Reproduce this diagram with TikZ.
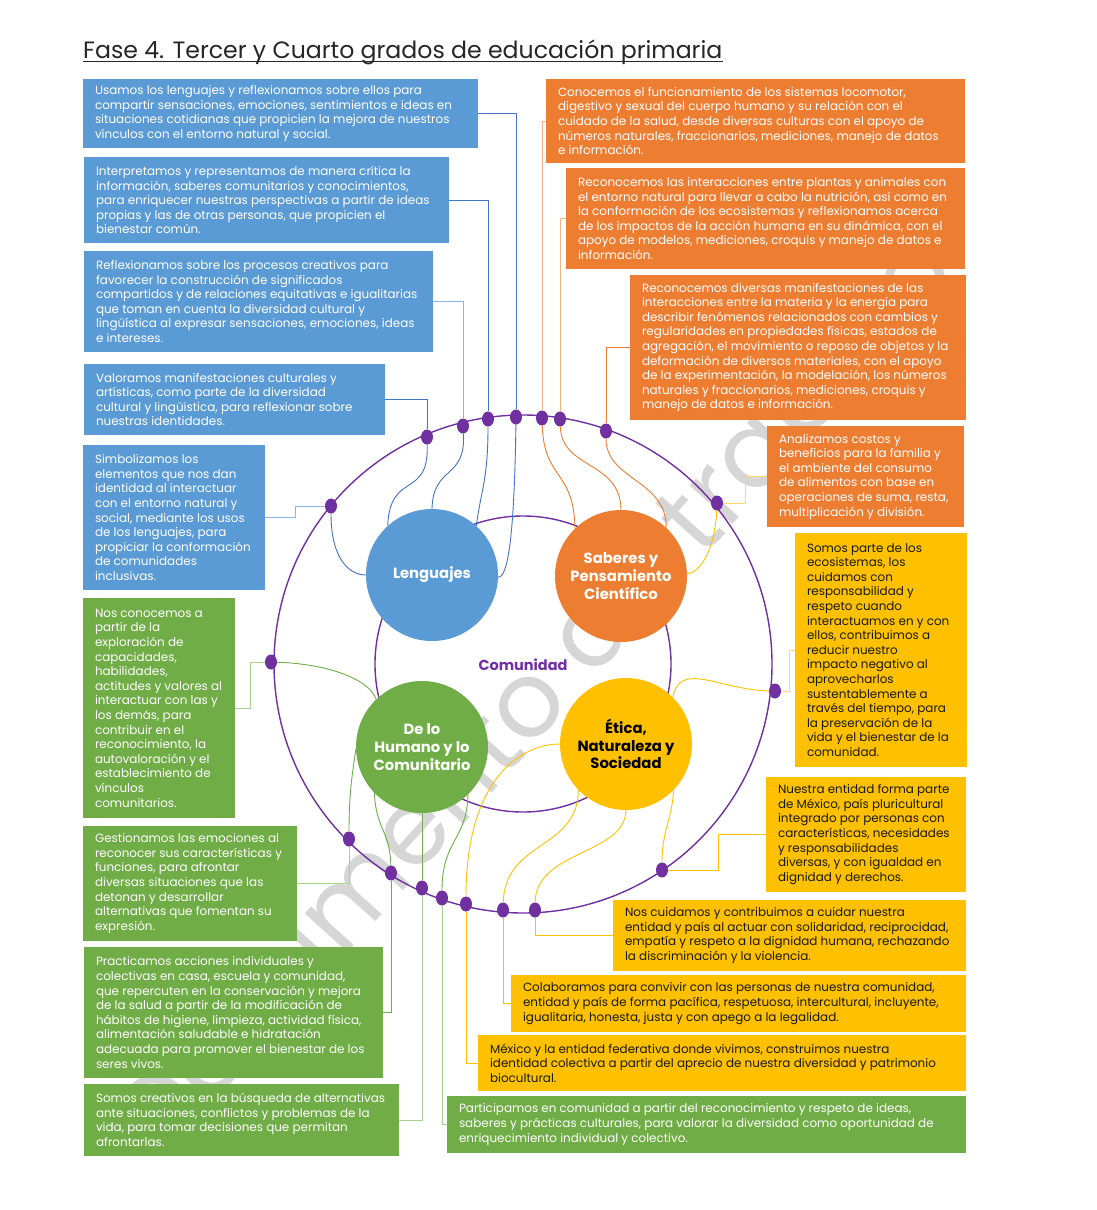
\documentclass[tikz,border=0pt]{standalone}
\usepackage{fontspec}
\usepackage{graphicx}
\setmainfont{Poppins}
\usetikzlibrary{shapes.geometric}
\definecolor{cblue}{HTML}{5B9BD5}
\definecolor{cgreen}{HTML}{70AD47}
\definecolor{cyellow}{HTML}{FFC000}
\definecolor{corange}{HTML}{ED7D31}
\definecolor{cpurple}{HTML}{7030A0}
\definecolor{lblue}{HTML}{8FB4E3}
\definecolor{mblue}{HTML}{4472C4}
\definecolor{lorange}{HTML}{F4B183}
\definecolor{lgreen}{HTML}{A9D18E}
\definecolor{lyellow}{HTML}{FFD966}
\definecolor{wmgray}{HTML}{D6D6D6}
\tikzset{
  bx/.style={anchor=north west, inner sep=0pt, outer sep=0pt},
  tx/.style={inner sep=0pt, outer sep=0pt, align=left, font=\fontsize{11.95}{14.6}\selectfont},
  bluebox/.style={bx, fill=cblue},     bluetxt/.style={tx, text=white},
  greenbox/.style={bx, fill=cgreen},   greentxt/.style={tx, text=white},
  orangebox/.style={bx, fill=corange}, orangetxt/.style={tx, text=white},
  yellowbox/.style={bx, fill=cyellow}, yellowtxt/.style={tx, text=black!90},
  area/.style={circle, inner sep=0pt, minimum size=132pt, align=center,
    font=\bfseries\fontsize{14.8}{17.6}\selectfont},
  ring/.style={circle, draw=cpurple, line width=1.4pt, inner sep=0pt},
  dot/.style={ellipse, fill=cpurple, minimum width=12pt, minimum height=15pt, inner sep=0pt},
  cn/.style={line width=0.9pt},
}
% #1 name, #2 colour family, #3 x, #4 y, #5 width, #6 height, #7 text
\newcommand{\card}[7]{%
  \node[#2box, minimum width=#5pt, minimum height=#6pt] (#1) at (#3,#4) {};
  \node[#2txt, anchor=west] (#1t) at ([xshift=12pt]#1.west) {#7};}
\begin{document}
\begin{tikzpicture}[x=1pt,y=-1pt]
\useasboundingbox (0,0) rectangle (1096,1210);
\fill[white] (0,0) rectangle (1096,1210);

% watermark
\node[rotate=48, text=wmgray, font=\fontsize{105}{105}\selectfont, inner sep=0pt] (wm) at (540,700) {Documento de trabajo};

% title
\node[anchor=base west, inner sep=0pt, text=black!85] (title) at (83,58)
  {\resizebox{639pt}{!}{Fase 4. Tercer y Cuarto grados de educación primaria}};
\draw[line width=1.5pt, black!85] ([yshift=-3.5pt]title.base west) -- ([yshift=-3.5pt]title.base east);

% blue boxes
\card{b1}{blue}{83}{79}{395}{69}
 {Usamos los lenguajes y reflexionamos sobre ellos para\\compartir sensaciones, emociones, sentimientos e ideas en\\situaciones cotidianas que propicien la mejora de nuestros\\vínculos con el entorno natural y social.}
\card{b2}{blue}{84}{157}{365}{86}
 {Interpretamos y representamos de manera crítica la\\información, saberes comunitarios y conocimientos,\\para enriquecer nuestras perspectivas a partir de ideas\\propias y las de otras personas, que propicien el\\bienestar común.}
\card{b3}{blue}{84}{251}{349}{101}
 {Reflexionamos sobre los procesos creativos para\\favorecer la construcción de significados\\compartidos y de relaciones equitativas e igualitarias\\que toman en cuenta la diversidad cultural y\\lingüística al expresar sensaciones, emociones, ideas\\e intereses.}
\card{b4}{blue}{84}{364}{301}{71}
 {Valoramos manifestaciones culturales y\\artísticas, como parte de la diversidad\\cultural y lingüística, para reflexionar sobre\\nuestras identidades.}
\card{b5}{blue}{83}{445}{182}{145}
 {Simbolizamos los\\elementos que nos dan\\identidad al interactuar\\con el entorno natural y\\social, mediante los usos\\de los lenguajes, para\\propiciar la conformación\\de comunidades\\inclusivas.}

% green boxes
\card{g1}{green}{83}{598}{152}{220}
 {Nos conocemos a\\partir de la\\exploración de\\capacidades,\\habilidades,\\actitudes y valores al\\interactuar con las y\\los demás, para\\contribuir en el\\reconocimiento, la\\autovaloración y el\\establecimiento de\\vínculos\\comunitarios.}
\card{g2}{green}{83}{826}{214}{115}
 {Gestionamos las emociones al\\reconocer sus características y\\funciones, para afrontar\\diversas situaciones que las\\detonan y desarrollar\\alternativas que fomentan su\\expresión.}
\card{g3}{green}{84}{947}{299}{131}
 {Practicamos acciones individuales y\\colectivas en casa, escuela y comunidad,\\que repercuten en la conservación y mejora\\de la salud a partir de la modificación de\\hábitos de higiene, limpieza, actividad física,\\alimentación saludable e hidratación\\adecuada para promover el bienestar de los\\seres vivos.}
\card{g4}{green}{84}{1084}{315}{72}
 {Somos creativos en la búsqueda de alternativas\\ante situaciones, conflictos y problemas de la\\vida, para tomar decisiones que permitan\\afrontarlas.}
\card{g5}{green}{447}{1096}{519}{57}
 {Participamos en comunidad a partir del reconocimiento y respeto de ideas,\\saberes y prácticas culturales, para valorar la diversidad como oportunidad de\\enriquecimiento individual y colectivo.}

% orange boxes
\card{o1}{orange}{546}{79}{419}{84}
 {Conocemos el funcionamiento de los sistemas locomotor,\\digestivo y sexual del cuerpo humano y su relación con el\\cuidado de la salud, desde diversas culturas con el apoyo de\\números naturales, fraccionarios, mediciones, manejo de datos\\e información.}
\card{o2}{orange}{566}{168}{399}{101}
 {Reconocemos las interacciones entre plantas y animales con\\el entorno natural para llevar a cabo la nutrición, así como en\\la conformación de los ecosistemas y reflexionamos acerca\\de los impactos de la acción humana en su dinámica, con el\\apoyo de modelos, mediciones, croquis y manejo de datos e\\información.}
\card{o3}{orange}{630}{275}{336}{145}
 {Reconocemos diversas manifestaciones de las\\interacciones entre la materia y la energía para\\describir fenómenos relacionados con cambios y\\regularidades en propiedades físicas, estados de\\agregación, el movimiento o reposo de objetos y la\\deformación de diversos materiales, con el apoyo\\de la experimentación, la modelación, los números\\naturales y fraccionarios, mediciones, croquis y\\manejo de datos e información.}
\card{o4}{orange}{767}{426}{197}{101}
 {Analizamos costos y\\beneficios para la familia y\\el ambiente del consumo\\de alimentos con base en\\operaciones de suma, resta,\\multiplicación y división.}

% yellow boxes
\card{y1}{yellow}{795}{533}{172}{234}
 {Somos parte de los\\ecosistemas, los\\cuidamos con\\responsabilidad y\\respeto cuando\\interactuamos en y con\\ellos, contribuimos a\\reducir nuestro\\impacto negativo al\\aprovecharlos\\sustentablemente a\\través del tiempo, para\\la preservación de la\\vida y el bienestar de la\\comunidad.}
\card{y2}{yellow}{766}{777}{200}{115}
 {Nuestra entidad forma parte\\de México, país pluricultural\\integrado por personas con\\características, necesidades\\y responsabilidades\\diversas, y con igualdad en\\dignidad y derechos.}
\card{y3}{yellow}{613}{900}{353}{71}
 {Nos cuidamos y contribuimos a cuidar nuestra\\entidad y país al actuar con solidaridad, reciprocidad,\\empatía y respeto a la dignidad humana, rechazando\\la discriminación y la violencia.}
\card{y4}{yellow}{511}{975}{455}{57}
 {Colaboramos para convivir con las personas de nuestra comunidad,\\entidad y país de forma pacífica, respetuosa, intercultural, incluyente,\\igualitaria, honesta, justa y con apego a la legalidad.}
\card{y5}{yellow}{478}{1035}{488}{56}
 {México y la entidad federativa donde vivimos, construimos nuestra\\identidad colectiva a partir del aprecio de nuestra diversidad y patrimonio\\biocultural.}

% rings
\node[ring, minimum size=498pt] (outer) at (523,664) {};
\node[ring, minimum size=296pt] (inner) at (523,664) {};
\node[text=cpurple, font=\bfseries\fontsize{14.5}{17}\selectfont] (com) at (523,665) {Comunidad};

% area circles
\node[area, fill=cblue, text=white] (len) at (432,575) {Lenguajes};
\node[area, fill=corange, text=white] (sab) at (621,576) {Saberes y\\Pensamiento\\Científico};
\node[area, fill=cgreen, text=white] (hum) at (422,747) {De lo\\Humano y lo\\Comunitario};
\node[area, fill=cyellow, text=black] (eti) at (626,744) {Ética,\\Naturaleza y\\Sociedad};

% dots
\node[dot] (dA) at (331,506) {};
\node[dot] (dB) at (427,437) {};
\node[dot] (dC) at (463,426) {};
\node[dot] (dD) at (488,419) {};
\node[dot] (dE) at (516,417) {};
\node[dot] (dF) at (542,418) {};
\node[dot] (dG) at (560,419) {};
\node[dot] (dH) at (606,431) {};
\node[dot] (dI) at (717,503) {};
\node[dot] (dJ) at (775,691) {};
\node[dot] (dK) at (662,870) {};
\node[dot] (dL) at (535,910) {};
\node[dot] (dM) at (503,910) {};
\node[dot] (dN) at (466,904) {};
\node[dot] (dO) at (442,898) {};
\node[dot] (dP) at (422,888) {};
\node[dot] (dQ) at (391,873) {};
\node[dot] (dR) at (349,839) {};
\node[dot] (dS) at (271,662) {};

% box to dot connectors
\draw[cn, mblue] (b1.east) -| (dE);
\draw[cn, mblue] (b2.east) -| (dD);
\draw[cn, lblue] (b3.east) -| (dC);
\draw[cn, mblue] (b4.east) -| (dB);
\draw[cn, lblue] (b5.east) -- ++(30,0) |- (dA);
\draw[cn, lorange] (o1.west) -| (dF);
\draw[cn, lorange] (o2.west) -| (dG);
\draw[cn, corange] (o3.west) -| (dH);
\draw[cn, lyellow] (o4.west) -- ++(-22,0) |- (dI);
\draw[cn, lyellow] (y1.west) -- ++(-6,0) |- (dJ);
\draw[cn, cyellow] (y2.west) -- ++(-48,0) |- (dK);
\draw[cn, cyellow] (y3.west) -| (dL);
\draw[cn, cyellow] (y4.west) -| (dM);
\draw[cn, cyellow] (y5.west) -| (dN);
\draw[cn, lgreen] (g5.west) -| (dO);
\draw[cn, lgreen] (g4.east) -| (dP);
\draw[cn, cgreen] (g3.east) -| (dQ);
\draw[cn, lgreen] (g2.east) -| (dR);
\draw[cn, lgreen] (g1.east) -- ++(15,0) |- (dS);

% dot to area curves
\draw[cn, mblue] (dB) .. controls (429,500) and (390,470) .. (len.132);
\draw[cn, mblue] (dC) .. controls (466,480) and (433,465) .. (len.90);
\draw[cn, mblue] (dD) .. controls (488,480) and (481,490) .. (len.48);
\draw[cn, mblue] (dE) .. controls (514,560) and (505,577) .. (len.-2);
\draw[cn, mblue] (dA) .. controls (331,560) and (350,575) .. (len.180);
\draw[cn, corange] (dF) .. controls (544,480) and (574,470) .. (sab.134);
\draw[cn, corange] (dG) .. controls (562,470) and (620,460) .. (sab.90);
\draw[cn, corange] (dH) .. controls (606,480) and (667,480) .. (sab.47);
\draw[cn, cyellow] (dI) .. controls (715,550) and (700,573) .. (sab.2);
\draw[cn, cgreen] (dS) .. controls (330,664) and (370,680) .. (hum.134);
\draw[cn, cgreen] (dR) .. controls (349,790) and (353,770) .. (hum.182);
\draw[cn, cgreen] (dQ) .. controls (390,830) and (376,830) .. (hum.224);
\draw[cn, cgreen] (dP) -- (hum.270);
\draw[cn, cgreen] (dO) .. controls (442,840) and (467,840) .. (hum.314);
\draw[cn, cyellow] (dN) .. controls (466,780) and (520,744) .. (eti.180);
\draw[cn, cyellow] (dM) .. controls (505,840) and (578,850) .. (eti.224);
\draw[cn, cyellow] (dL) .. controls (536,850) and (625,855) .. (eti.270);
\draw[cn, cyellow] (dK) .. controls (662,830) and (672,820) .. (eti.316);
\draw[cn, cyellow] (dJ) .. controls (720,690) and (680,660) .. (eti.45);
\end{tikzpicture}
\end{document}
